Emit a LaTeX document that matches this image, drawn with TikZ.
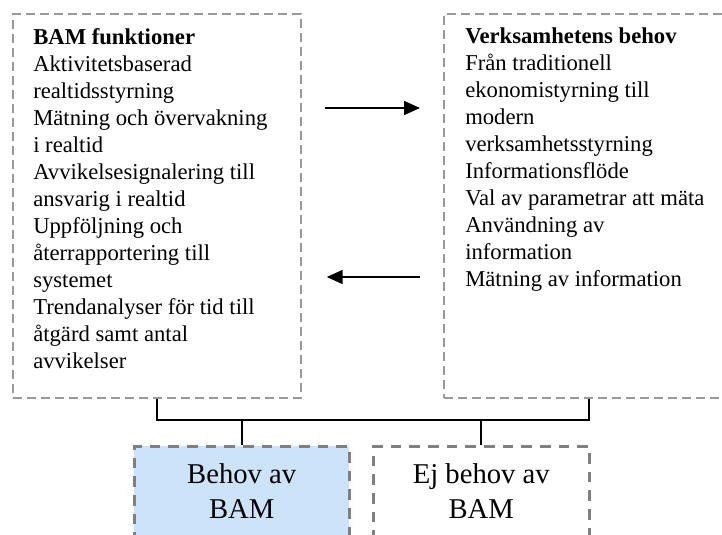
\documentclass[tikz,border=0pt]{standalone}
\usepackage{fontspec}
\setmainfont{Liberation Serif}
\usetikzlibrary{arrows.meta,calc}
\definecolor{edgegray}{HTML}{999999}
\definecolor{darkedge}{HTML}{808080}
\definecolor{paleblue}{HTML}{CDE3FA}
\tikzset{
  topbox/.style={draw=edgegray, line width=1.3pt, dash pattern=on 6.5pt off 4pt,
    rectangle, inner sep=0pt, anchor=north west, minimum height=288pt},
  bottombox/.style={draw=darkedge, line width=1.9pt, dash pattern=on 8pt off 6pt,
    rectangle, inner sep=0pt, anchor=north west, minimum height=75pt,
    text depth=8pt, align=center, font=\fontsize{21.5pt}{26.25pt}\selectfont},
  listtext/.style={inner sep=0pt, anchor=north west, align=left,
    font=\fontsize{17pt}{20.25pt}\selectfont},
  flow/.style={line width=1.2pt, -{Triangle[length=12pt,width=10.5pt]}},
  tree/.style={line width=1.4pt},
}
\begin{document}
\begin{tikzpicture}[x=0.75pt,y=-0.75pt]
\useasboundingbox (0,0) rectangle (722,535);
\clip (0,0) rectangle (722,535);

% upper boxes
\node[topbox, minimum width=216pt] (lbox) at (12,13) {};
\node[topbox, minimum width=217.5pt] (rbox) at (443,13) {};

\node[listtext] (ltext) at (33,28) {\textbf{BAM funktioner}\\
Aktivitetsbaserad\\
realtidsstyrning\\
Mätning och övervakning\\
i realtid\\
Avvikelsesignalering till\\
ansvarig i realtid\\
Uppföljning och\\
återrapportering till\\
systemet\\
Trendanalyser för tid till\\
åtgärd samt antal\\
avvikelser};

\node[listtext] (rtext) at (465,28) {\textbf{Verksamhetens behov}\\
Från traditionell\\
ekonomistyrning till\\
modern\\
verksamhetsstyrning\\
Informationsflöde\\
Val av parametrar att mäta\\
Användning av\\
information\\
Mätning av information};

% exchange arrows between the boxes
\coordinate (a1s) at ($(lbox.north east)+(23,95)$);
\coordinate (a1e) at ($(rbox.north west)+(-23,95)$);
\coordinate (a2s) at ($(rbox.north west)+(-23,264)$);
\coordinate (a2e) at ($(lbox.north east)+(25,264)$);
\draw[flow] (a1s) -- (a1e);
\draw[flow] (a2s) -- (a2e);

% lower boxes
\node[bottombox, fill=paleblue, minimum width=161.25pt] (need) at (133,445) {Behov av\\BAM};
\node[bottombox, minimum width=162pt] (noneed) at (372,445) {Ej behov av\\BAM};

% joining tree
\coordinate (bar) at (0,420);
\draw[tree] (lbox.south) -- (lbox.south |- bar) -- (rbox.south |- bar) -- (rbox.south);
\draw[tree] (need.north |- bar) -- (need.north);
\draw[tree] (noneed.north |- bar) -- (noneed.north);
\end{tikzpicture}
\end{document}
